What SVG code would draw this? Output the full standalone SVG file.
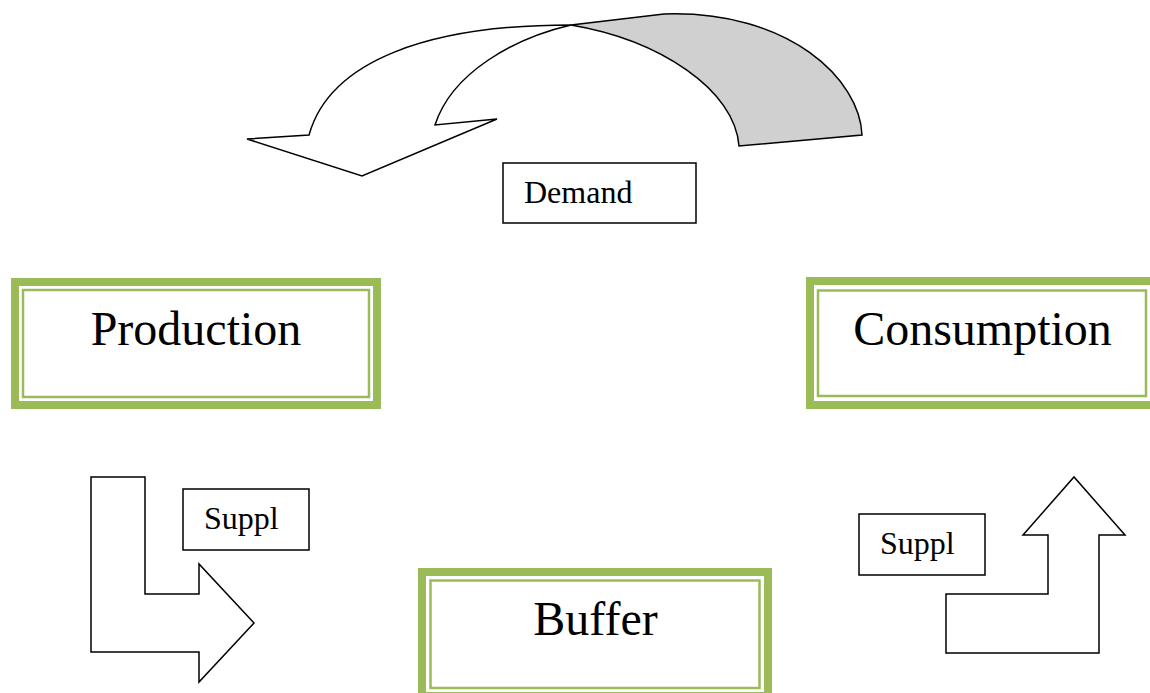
<svg xmlns="http://www.w3.org/2000/svg" width="1150" height="693" viewBox="0 0 1150 693">
<style>
.outer{fill:none;stroke:#9BBB59;stroke-width:8}
.inner{fill:none;stroke:#9BBB59;stroke-width:2.5}
.big{font-family:"Liberation Serif","Times New Roman",serif;font-size:48px;fill:#000}
.lbl{font-family:"Liberation Serif","Times New Roman",serif;font-size:32px;fill:#000}
.box{fill:#fff;stroke:#000;stroke-width:1.5}
.shape{fill:#fff;stroke:#000;stroke-width:1.5;stroke-linejoin:miter}
</style>
<rect width="1150" height="693" fill="#fff"/>
<g id="connectors">
  <g id="demand-arrow">
    <path class="shape" style="fill:#D0D0D0" d="M571,25 L664,14 C790,10 860,80 862,135 L739,146 C735,90 660,40 571,25 Z"/>
    <path class="shape" d="M309,135 C330,60 430,25 571,25 C515,38 452,72 435,125 L497,119 L362,176 L247,139 Z"/>
  </g>
  <path id="supply-arrow-left" class="shape" d="M91,477 L145,477 L145,594 L199,594 L199,564 L254,623 L199,682 L199,652 L91,652 Z"/>
  <path id="supply-arrow-right" class="shape" d="M946,653 L1099,653 L1099,535 L1125,535 L1074,477 L1023,535 L1048,535 L1048,594 L946,594 Z"/>
</g>
<g id="demand-label">
  <rect class="box" x="503" y="163" width="193" height="60"/>
  <text class="lbl" x="524" y="203">Demand</text>
</g>
<g id="supply-label-left">
  <rect class="box" x="183" y="489" width="126" height="61"/>
  <text class="lbl" x="204" y="529">Suppl</text>
</g>
<g id="supply-label-right">
  <rect class="box" x="859" y="514" width="126" height="61"/>
  <text class="lbl" x="880" y="554">Suppl</text>
</g>
<g id="production">
  <rect class="outer" x="15" y="282" width="362" height="123"/>
  <rect class="inner" x="23" y="290" width="346" height="107"/>
  <text class="big" x="196" y="345" text-anchor="middle">Production</text>
</g>
<g id="consumption">
  <rect class="outer" x="810" y="281" width="350" height="124"/>
  <rect class="inner" x="818" y="290.5" width="328" height="105.5"/>
  <text class="big" x="982.5" y="345" text-anchor="middle">Consumption</text>
</g>
<g id="buffer">
  <rect class="outer" x="422" y="572" width="346" height="124"/>
  <rect class="inner" x="430.5" y="580.5" width="329" height="107.5"/>
  <text class="big" x="595.5" y="635" text-anchor="middle">Buffer</text>
</g>
</svg>
